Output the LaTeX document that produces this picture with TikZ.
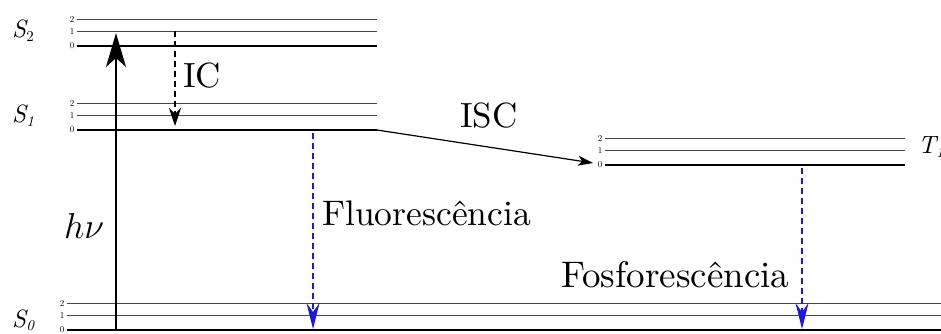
\RequirePackage{fix-cm}
\documentclass[tikz,border=0pt]{standalone}
\usepackage{fontspec}
\IfFontExistsTF{lmroman10-regular.otf}{%
  \setmainfont{lmroman10-regular.otf}[ItalicFont=lmroman10-italic.otf, BoldFont=lmroman10-bold.otf]%
}{}
\usetikzlibrary{arrows.meta}
\definecolor{lvlgray}{RGB}{70,70,70}
\definecolor{emblue}{RGB}{25,25,225}
\tikzset{
  thinlvl/.style={draw=lvlgray, line width=1pt},
  thicklvl/.style={draw=black, line width=2.6pt},
  vnum/.style={font=\fontsize{9}{9}\selectfont, anchor=east, inner sep=0.5pt},
  statelbl/.style={font=\fontsize{25}{25}\selectfont\itshape, anchor=base west, inner sep=0pt},
  biglbl/.style={anchor=base west, inner sep=0pt},
  emarrow/.style={draw=emblue, line width=1.3pt, dash pattern=on 6pt off 4pt,
    -{Stealth[length=26pt,width=13pt,inset=9pt]}},
}
\newcommand{\lvlset}[5]{% name, x1, x2, y0, numx
  \coordinate (#1-0a) at (#2,#4);
  \coordinate (#1-0b) at (#3,#4);
  \coordinate (#1-1a) at (#2,#4-15);
  \coordinate (#1-1b) at (#3,#4-15);
  \coordinate (#1-2a) at (#2,#4-27);
  \coordinate (#1-2b) at (#3,#4-27);
  \draw[thicklvl] (#1-0a) -- (#1-0b);
  \draw[thinlvl] (#1-1a) -- (#1-1b);
  \draw[thinlvl] (#1-2a) -- (#1-2b);
  \node[vnum] (#1-n0) at (#5,#4) {0};
  \node[vnum] (#1-n1) at (#5,#4-15) {1};
  \node[vnum] (#1-n2) at (#5,#4-27) {2};
}
\begin{document}
\begin{tikzpicture}[x=1pt,y=-1pt]
\useasboundingbox (0,0) rectangle (941,333);

% energy levels
\lvlset{S2}{77}{377}{46}{75}
\lvlset{S1}{77}{377}{130}{75}
\lvlset{T1}{605}{905}{165}{603}
\lvlset{S0}{67}{945}{330}{65}

% state labels
\node[statelbl] (lS2) at (12,37) {S\raisebox{-4pt}{\fontsize{15}{15}\selectfont\upshape 2}};
\node[statelbl] (lS1) at (12,122) {S\raisebox{-4pt}{\fontsize{15}{15}\selectfont 1}};
\node[statelbl] (lS0) at (12,327) {S\raisebox{-3pt}{\fontsize{15}{15}\selectfont 0}};
\node[statelbl] (lT1) at (918,153) {T\raisebox{-4pt}{\fontsize{15}{15}\selectfont 1}};

% absorption
\coordinate (hvs) at (116,330);
\coordinate (hve) at (116,33);
\draw[line width=1.5pt, -{Stealth[length=34pt,width=20pt,inset=9pt]}] (hvs) -- (hve);
\node[biglbl, font=\fontsize{36}{36}\selectfont] (lhv) at (64,238) {$h\nu$};

% internal conversion
\coordinate (ics) at (175,31);
\coordinate (ice) at (175,126);
\draw[line width=1.2pt, dash pattern=on 6pt off 4pt, -{Stealth[length=18pt,width=12pt,inset=6pt]}] (ics) -- (ice);
\node[biglbl, font=\fontsize{35}{35}\selectfont] (lic) at (183,87) {IC};

% intersystem crossing
\coordinate (isce) at (593,163);
\draw[line width=1.2pt, -{Stealth[length=15pt,width=10pt,inset=4pt]}] (S1-0b) -- (isce);
\node[biglbl, font=\fontsize{35}{35}\selectfont] (lisc) at (460,127) {ISC};

% fluorescence
\coordinate (fls) at (313,133);
\coordinate (fle) at (313,329);
\draw[emarrow] (fls) -- (fle);
\node[biglbl, font=\fontsize{35.5}{35.5}\selectfont] (lfl) at (322,225) {Fluorescência};

% phosphorescence
\coordinate (phs) at (802,168);
\coordinate (phe) at (802,329);
\draw[emarrow] (phs) -- (phe);
\node[biglbl, font=\fontsize{37}{37}\selectfont] (lph) at (561,287) {Fosforescência};
\end{tikzpicture}
\end{document}
